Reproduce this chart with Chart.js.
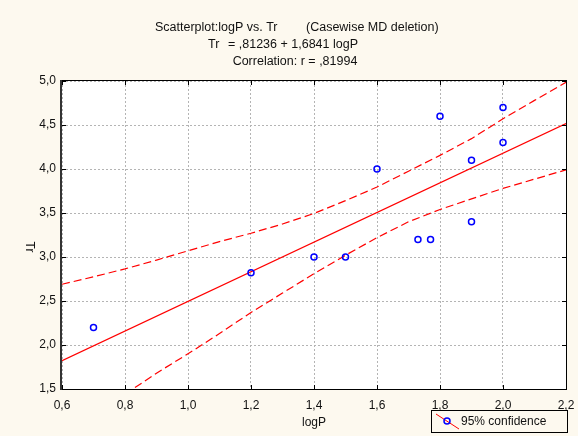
<!DOCTYPE html>
<html>
<head>
<meta charset="utf-8">
<script src="https://cdn.jsdelivr.net/npm/chart.js@4"></script>
<style>
  html, body { margin: 0; padding: 0; background: #fdf9ef; }
  canvas { display: block; }
</style>
</head>
<body>
<canvas id="myGraph" width="578" height="436"></canvas>
<script>
const logP = [0.7, 1.2, 1.4, 1.5, 1.6, 1.73, 1.77, 1.8, 1.9, 1.9, 2.0, 2.0]
const tr = [2.2, 2.82, 3.0, 3.0, 4.0, 3.2, 3.2, 4.6, 4.1, 3.4, 4.7, 4.3]

// Tr = ,81236 + 1,6841 logP
const intercept = 0.81236
const slope = 1.6841
const fitX = [0.6, 2.2]

// 95% confidence limits of the fitted line
const upperX = [0.6, 0.7, 0.8, 0.9, 1.0, 1.1, 1.2, 1.3, 1.4, 1.5, 1.6, 1.7, 1.8, 1.9, 2.0, 2.1, 2.2]
const upperY = [2.69, 2.775, 2.865, 2.965, 3.07, 3.175, 3.27, 3.375, 3.495, 3.64, 3.795, 3.975, 4.155, 4.345, 4.57, 4.78, 4.985]
const lowerX = [0.8, 0.9, 1.0, 1.1, 1.2, 1.3, 1.4, 1.5, 1.6, 1.7, 1.8, 1.9, 2.0, 2.1, 2.2]
const lowerY = [1.44, 1.68, 1.9, 2.13, 2.37, 2.59, 2.81, 3.02, 3.22, 3.4, 3.54, 3.66, 3.78, 3.885, 3.99]

const xTicks = [0.6, 0.8, 1.0, 1.2, 1.4, 1.6, 1.8, 2.0, 2.2]
const yTicks = [1.5, 2.0, 2.5, 3.0, 3.5, 4.0, 4.5, 5.0]

const FONT = '"Liberation Sans", Arial, sans-serif'
const fmt = (v) => v.toFixed(1).replace('.', ',')
const toPoints = (xs, ys) => xs.map((x, i) => ({ x: x, y: ys[i] }))

// background, plot frame with inner ticks, titles and the legend box
const decorations = {
  id: 'decorations',
  beforeDraw(chart) {
    const { ctx, chartArea: a } = chart
    ctx.save()
    ctx.fillStyle = '#fdf9ef'
    ctx.fillRect(0, 0, chart.width, chart.height)
    ctx.fillStyle = '#ffffff'
    ctx.fillRect(a.left, a.top, a.right - a.left, a.bottom - a.top)
    ctx.restore()
  },
  afterDraw(chart) {
    const { ctx, chartArea: a, scales } = chart
    ctx.save()

    ctx.strokeStyle = '#000'
    ctx.lineWidth = 1
    ctx.strokeRect(a.left - 0.5, a.top - 0.5, a.right - a.left + 1, a.bottom - a.top + 1)
    ctx.strokeStyle = '#333'
    ctx.lineWidth = 2
    ctx.beginPath()
    ctx.moveTo(a.left - 1, a.top - 1)
    ctx.lineTo(a.left - 1, a.bottom + 1)
    ctx.stroke()

    ctx.strokeStyle = '#000'
    ctx.lineWidth = 1
    ctx.beginPath()
    xTicks.forEach((v) => {
      const px = Math.round(scales.x.getPixelForValue(v)) + 0.5
      ctx.moveTo(px, a.bottom)
      ctx.lineTo(px, a.bottom - 4)
      ctx.moveTo(px, a.top)
      ctx.lineTo(px, a.top + 4)
    })
    yTicks.forEach((v) => {
      const py = Math.round(scales.y.getPixelForValue(v)) + 0.5
      ctx.moveTo(a.left, py)
      ctx.lineTo(a.left + 4, py)
      ctx.moveTo(a.right, py)
      ctx.lineTo(a.right - 4, py)
    })
    ctx.stroke()

    ctx.fillStyle = '#111'
    ctx.font = '12.5px ' + FONT
    ctx.textBaseline = 'middle'
    ctx.textAlign = 'left'
    ctx.fillText('Scatterplot:logP vs. Tr', 155, 28)
    ctx.fillText('(Casewise MD deletion)', 306, 28)
    ctx.fillText('Tr', 208, 45)
    ctx.fillText('= ,81236 + 1,6841 logP', 228, 45)
    ctx.textAlign = 'center'
    ctx.fillText('Correlation: r = ,81994', 295, 62)

    ctx.font = '12px ' + FONT
    ctx.fillText('logP', (a.left + a.right) / 2, 423)
    ctx.save()
    ctx.translate(29, (a.top + a.bottom) / 2 + 12)
    ctx.rotate(Math.PI / 2)
    ctx.fillText('Tr', 0, 0)
    ctx.restore()

    ctx.strokeStyle = '#000'
    ctx.lineWidth = 1
    ctx.strokeRect(431.5, 410.5, 136, 22)
    ctx.strokeStyle = '#ff0000'
    ctx.beginPath()
    ctx.moveTo(436, 414)
    ctx.lineTo(459, 429)
    ctx.stroke()
    ctx.strokeStyle = '#0000ff'
    ctx.lineWidth = 1.5
    ctx.beginPath()
    ctx.arc(447, 421, 3, 0, Math.PI * 2)
    ctx.stroke()
    ctx.textAlign = 'left'
    ctx.fillStyle = '#111'
    ctx.fillText('95% confidence', 461, 421.5)

    ctx.restore()
  },
}

const ctx = document.getElementById('myGraph').getContext('2d')
new Chart(ctx, {
  type: 'scatter',
  data: {
    datasets: [
      {
        label: 'Tr',
        data: toPoints(logP, tr),
        showLine: false,
        pointStyle: 'circle',
        pointRadius: 3,
        pointBorderWidth: 1.5,
        pointBorderColor: '#0000ff',
        pointBackgroundColor: 'rgba(255,255,255,0)',
      },
      {
        label: 'fit',
        data: fitX.map((x) => ({ x: x, y: intercept + slope * x })),
        showLine: true,
        borderColor: '#ff0000',
        borderWidth: 1.2,
        pointRadius: 0,
      },
      {
        label: 'upper',
        data: toPoints(upperX, upperY),
        showLine: true,
        borderColor: '#ff0000',
        borderWidth: 1.2,
        borderDash: [8, 4],
        pointRadius: 0,
      },
      {
        label: 'lower',
        data: toPoints(lowerX, lowerY),
        showLine: true,
        borderColor: '#ff0000',
        borderWidth: 1.2,
        borderDash: [8, 4],
        pointRadius: 0,
      },
    ],
  },
  options: {
    responsive: false,
    animation: false,
    events: [],
    layout: { padding: { top: 81, right: 12, left: 0, bottom: 0 } },
    plugins: {
      legend: { display: false },
      title: { display: false },
      tooltip: { enabled: false },
    },
    scales: {
      x: {
        type: 'linear',
        min: 0.6,
        max: 2.2,
        afterBuildTicks: (s) => {
          s.ticks = xTicks.map((v) => ({ value: v }))
        },
        afterFit: (s) => {
          s.height = 47
          s.paddingLeft = 0
          s.paddingRight = 0
        },
        grid: { color: '#b4b4b4', drawTicks: false },
        border: { display: false, dash: [2, 2] },
        ticks: {
          padding: 9,
          maxRotation: 0,
          autoSkip: false,
          color: '#111',
          font: { family: FONT, size: 12 },
          callback: (v) => fmt(v),
        },
      },
      y: {
        type: 'linear',
        min: 1.5,
        max: 5.0,
        afterBuildTicks: (s) => {
          s.ticks = yTicks.map((v) => ({ value: v }))
        },
        afterFit: (s) => {
          s.width = 62
          s.paddingTop = 0
          s.paddingBottom = 0
        },
        grid: { color: '#b4b4b4', drawTicks: false },
        border: { display: false, dash: [2, 2] },
        ticks: {
          padding: 6,
          autoSkip: false,
          color: '#111',
          font: { family: FONT, size: 12 },
          callback: (v) => fmt(v),
        },
      },
    },
  },
  plugins: [decorations],
})
</script>
</body>
</html>
